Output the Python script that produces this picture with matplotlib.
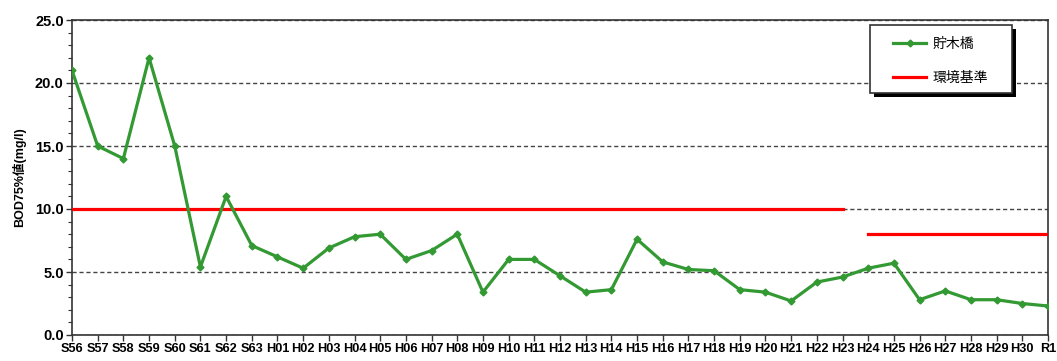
import matplotlib
matplotlib.use('Agg')
import matplotlib.pyplot as plt
import matplotlib.patches as mpatches
import numpy as np
from matplotlib.ticker import MultipleLocator, FormatStrFormatter

plt.rcParams['font.family'] = ['Liberation Sans', 'Noto Sans CJK JP', 'DejaVu Sans']

# 年度
years = ['S56', 'S57', 'S58', 'S59', 'S60', 'S61', 'S62', 'S63',
         'H01', 'H02', 'H03', 'H04', 'H05', 'H06', 'H07', 'H08', 'H09', 'H10',
         'H11', 'H12', 'H13', 'H14', 'H15', 'H16', 'H17', 'H18', 'H19', 'H20',
         'H21', 'H22', 'H23', 'H24', 'H25', 'H26', 'H27', 'H28', 'H29', 'H30',
         'R1']
# 貯木橋 BOD75%値 (mg/l)
bod = [21.0, 15.0, 14.0, 22.0, 15.0, 5.4, 11.0, 7.1,
       6.2, 5.3, 6.9, 7.8, 8.0, 6.0, 6.7, 8.0, 3.4, 6.0,
       6.0, 4.7, 3.4, 3.6, 7.6, 5.8, 5.2, 5.1, 3.6, 3.4,
       2.7, 4.2, 4.6, 5.3, 5.7, 2.8, 3.5, 2.8, 2.8, 2.5,
       2.3]
# 環境基準 (S56-H23: 10, H24-R1: 8)
std_old = 10.0
std_new = 8.0
std_change = 'H24'

x = np.arange(len(years))
k = years.index(std_change)

W, H = 1057, 361
fig = plt.figure(figsize=(W / 100, H / 100), dpi=100)
ax = fig.add_axes([72 / W, 1 - 335 / H, 976 / W, 315 / H])

ax.plot(x, bod, color='#339933', lw=2.3, marker='D', ms=3.5, label='貯木橋', zorder=4)
ax.plot(x[:k], [std_old] * k, color='#ff0000', lw=2.3, label='環境基準', zorder=3)
ax.plot(x[k:], [std_new] * (len(x) - k), color='#ff0000', lw=2.3, zorder=3)

ax.set_xlim(0, len(years) - 1)
ax.set_ylim(0, 25)
ax.set_xticks(x)
ax.set_xticklabels(years)
ax.yaxis.set_major_locator(MultipleLocator(5))
ax.yaxis.set_minor_locator(MultipleLocator(1))
ax.yaxis.set_major_formatter(FormatStrFormatter('%.1f'))

for lab in ax.get_xticklabels():
    lab.set_fontweight('bold')
    lab.set_fontsize(9.2)
for lab in ax.get_yticklabels():
    lab.set_fontweight('bold')
    lab.set_fontsize(10.5)

ax.tick_params(axis='both', which='major', direction='out', length=4, width=1, pad=2, colors='#333333')
ax.tick_params(axis='both', which='major', labelcolor='black')
ax.tick_params(axis='y', which='minor', direction='out', length=3, width=0.8, colors='#333333')
ax.tick_params(axis='x', pad=2)

ax.grid(axis='y', which='major', ls=(0, (3, 2)), color='#444444', lw=1)
for s in ax.spines.values():
    s.set_color('#333333')
    s.set_linewidth(1.2)

ax.set_ylabel('BOD75%値(mg/l)', fontsize=9, fontweight='bold', labelpad=6)

# legend box with a solid drop shadow
bx, by, bw, bh = 870 / W, 1 - 93 / H, 142 / W, 68 / H
shadow = mpatches.Rectangle((bx + 4 / W, by - 4 / H), bw, bh, transform=fig.transFigure,
                            facecolor='black', edgecolor='none', clip_on=False, zorder=6)
frame = mpatches.Rectangle((bx, by), bw, bh, transform=fig.transFigure,
                           facecolor='white', edgecolor='#333333', lw=1.2,
                           clip_on=False, zorder=7)
ax.add_patch(shadow)
ax.add_patch(frame)

leg = ax.legend(loc='upper left', bbox_to_anchor=(893 / W, 1 - 37 / H),
                bbox_transform=fig.transFigure, frameon=False,
                handlelength=2.4, handletextpad=0.45, labelspacing=1.4,
                borderpad=0, borderaxespad=0,
                prop={'family': ['Noto Sans CJK JP'], 'size': 10})
leg.set_zorder(8)

fig.savefig('out.png', dpi=100)
